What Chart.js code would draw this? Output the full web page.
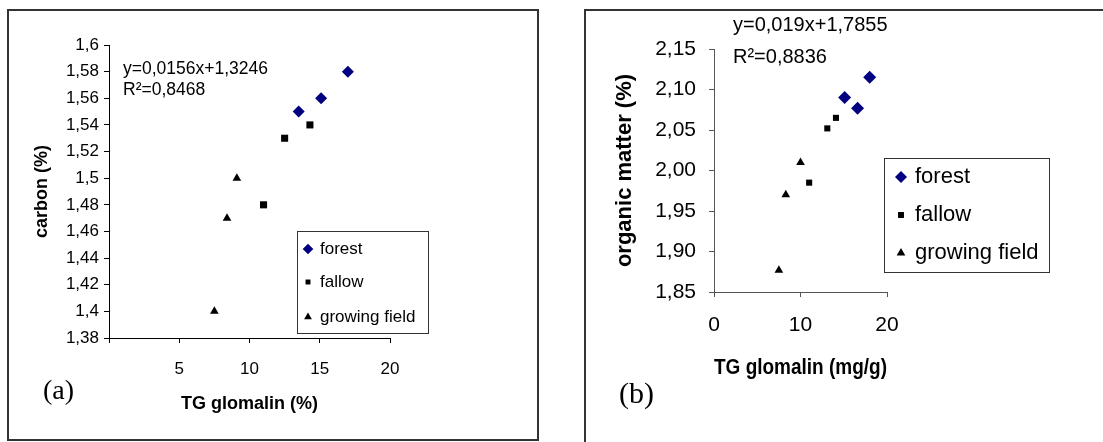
<!DOCTYPE html>
<html>
<head>
<meta charset="utf-8">
<script src="https://cdn.jsdelivr.net/npm/chart.js@4.4.1/dist/chart.umd.min.js"></script>
<style>
  html, body { margin: 0; padding: 0; background: #fff; width: 1103px; height: 442px; overflow: hidden; }
  .box { position: absolute; box-sizing: border-box; border: 2px solid #333; }
  #boxA { left: 7px; top: 9px; width: 532px; height: 432px; }
  #boxB { left: 584px; top: 9px; width: 540px; height: 450px; }
  .wrap { position: absolute; }
  #wrapA { left: 9px; top: 11px; width: 528px; height: 428px; }
  #wrapB { left: 586px; top: 11px; width: 517px; height: 431px; }
</style>
</head>
<body>
<div class="box" id="boxA"></div>
<div class="box" id="boxB"></div>
<div class="wrap" id="wrapA"><canvas id="chartA"></canvas></div>
<div class="wrap" id="wrapB"><canvas id="chartB"></canvas></div>
<script>
// series names
const seriesNames = ["forest", "fallow", "growing field"];

// (a) TG glomalin (%) vs carbon (%)
const forestGlomalinA = [13.5, 15.1, 17.0];
const forestCarbon = [1.55, 1.56, 1.58];
const fallowGlomalinA = [11.0, 12.5, 14.3];
const fallowCarbon = [1.48, 1.53, 1.54];
const growingGlomalinA = [7.5, 8.4, 9.1];
const growingCarbon = [1.40, 1.47, 1.50];
const carbonTicks = [1.38, 1.40, 1.42, 1.44, 1.46, 1.48, 1.50, 1.52, 1.54, 1.56, 1.58, 1.60];
const glomalinTicksA = [0, 5, 10, 15, 20];
const equationA = ["y=0,0156x+1,3246", "R\u00b2=0,8468"];

// (b) TG glomalin (mg/g) vs organic matter (%)
const forestGlomalinB = [15.1, 16.6, 18.0];
const forestOrganic = [2.09, 2.077, 2.115];
const fallowGlomalinB = [11.0, 13.1, 14.1];
const fallowOrganic = [1.985, 2.052, 2.065];
const growingGlomalinB = [7.5, 8.3, 10.0];
const growingOrganic = [1.877, 1.97, 2.01];
const organicTicks = [1.85, 1.90, 1.95, 2.00, 2.05, 2.10, 2.15];
const glomalinTicksB = [0, 10, 20];
const equationB = ["y=0,019x+1,7855", "R\u00b2=0,8836"];

const toPoints = (xs, ys) => xs.map((x, i) => ({ x, y: ys[i] }));
const useTicks = values => scale => { scale.ticks = values.map(v => ({ value: v })); };

function marker(ctx, style, x, y, r) {
  ctx.beginPath();
  if (style === "rectRot") {
    ctx.moveTo(x - r, y); ctx.lineTo(x, y - r); ctx.lineTo(x + r, y); ctx.lineTo(x, y + r);
  } else if (style === "rect") {
    const s = r * Math.SQRT1_2;
    ctx.rect(x - s, y - s, 2 * s, 2 * s);
  } else {
    ctx.moveTo(x, y - r);
    ctx.lineTo(x + r * 0.866, y + r * 0.5);
    ctx.lineTo(x - r * 0.866, y + r * 0.5);
  }
  ctx.closePath();
  ctx.fill();
}

// equation, panel tag and the boxed legend
const panelExtras = {
  id: "panelExtras",
  afterDraw(chart, args, o) {
    const ctx = chart.ctx;
    ctx.save();
    ctx.fillStyle = "#000";
    ctx.textAlign = "left";
    ctx.textBaseline = "middle";
    ctx.font = o.eqFont;
    ctx.fillText(o.eq[0], o.eqX, o.eqY[0]);
    ctx.fillText(o.eq[1], o.eqX, o.eqY[1]);
    ctx.font = o.tagFont;
    ctx.fillText(o.tag, o.tagX, o.tagY);

    const [bx, by, bw, bh] = o.box;
    ctx.fillStyle = "#fff";
    ctx.fillRect(bx, by, bw, bh);
    ctx.strokeStyle = "#333";
    ctx.lineWidth = 1;
    ctx.strokeRect(bx + 0.5, by + 0.5, bw, bh);
    ctx.font = o.legendFont;
    chart.data.datasets.forEach((ds, i) => {
      ctx.fillStyle = ds.backgroundColor;
      marker(ctx, ds.pointStyle, o.markerX, o.rows[i], o.markerR[i]);
      ctx.fillStyle = "#000";
      ctx.fillText(ds.label, o.textX, o.rows[i]);
    });
    ctx.restore();
  }
};

function makeChart(id, cfg) {
  const sets = [
    { pts: cfg.forest, style: "rectRot", color: "#000080", r: cfg.radii[0] },
    { pts: cfg.fallow, style: "rect", color: "#000", r: cfg.radii[1] },
    { pts: cfg.growing, style: "triangle", color: "#000", r: cfg.radii[2] }
  ];
  return new Chart(document.getElementById(id), {
    type: "scatter",
    data: {
      datasets: sets.map((s, i) => ({
        label: seriesNames[i],
        data: s.pts,
        pointStyle: s.style,
        backgroundColor: s.color,
        borderColor: s.color,
        borderWidth: 0,
        pointRadius: s.r,
        pointHoverRadius: s.r
      }))
    },
    options: {
      responsive: true,
      maintainAspectRatio: false,
      animation: false,
      events: [],
      layout: { padding: cfg.padding },
      plugins: {
        legend: { display: false },
        tooltip: { enabled: false },
        panelExtras: cfg.extras
      },
      scales: {
        x: {
          type: "linear",
          min: cfg.xTicks[0],
          max: cfg.xTicks[cfg.xTicks.length - 1],
          afterBuildTicks: useTicks(cfg.xTicks),
          afterFit: s => { s.height = cfg.xHeight; },
          border: { display: true, color: cfg.axisColor, width: 1 },
          grid: { drawOnChartArea: false, drawTicks: true, tickLength: 5, color: cfg.axisColor },
          ticks: {
            color: "#000",
            padding: cfg.xTickPad,
            font: { family: "'Liberation Sans', Arial, sans-serif", size: cfg.tickSize },
            maxRotation: 0,
            callback: cfg.xLabel
          },
          title: {
            display: true,
            text: cfg.xTitle,
            color: "#000",
            padding: 0,
            font: { family: "'Liberation Sans', Arial, sans-serif", size: cfg.titleSize, weight: "bold" }
          }
        },
        y: {
          type: "linear",
          min: cfg.yTicks[0],
          max: cfg.yTicks[cfg.yTicks.length - 1],
          afterBuildTicks: useTicks(cfg.yTicks),
          afterFit: s => { s.width = cfg.yWidth; },
          border: { display: true, color: cfg.axisColor, width: 1 },
          grid: { drawOnChartArea: false, drawTicks: true, tickLength: 5, color: cfg.axisColor },
          ticks: {
            color: "#000",
            padding: cfg.yTickPad,
            font: { family: "'Liberation Sans', Arial, sans-serif", size: cfg.tickSize },
            callback: cfg.yLabel
          },
          title: {
            display: true,
            text: cfg.yTitle,
            color: "#000",
            padding: 0,
            font: { family: "'Liberation Sans', Arial, sans-serif", size: cfg.titleSize, weight: "bold" }
          }
        }
      }
    },
    plugins: [panelExtras]
  });
}

makeChart("chartA", {
  forest: toPoints(forestGlomalinA, forestCarbon),
  fallow: toPoints(fallowGlomalinA, fallowCarbon),
  growing: toPoints(growingGlomalinA, growingCarbon),
  radii: [6, 5, 5],
  xTicks: glomalinTicksA,
  yTicks: carbonTicks,
  xTitle: "TG glomalin (%)",
  yTitle: "carbon (%)",
  xLabel: v => (v === 0 ? "" : String(v)),
  yLabel: v => String(+v.toFixed(2)).replace(".", ","),
  padding: { left: 22, top: 34, right: 147, bottom: 24 },
  yWidth: 78,
  xHeight: 77,
  xTickPad: 16,
  yTickPad: 5,
  tickSize: 17,
  titleSize: 18,
  axisColor: "#000",
  extras: {
    eq: equationA, eqX: 114, eqY: [58, 79], eqFont: "17.5px 'Liberation Sans', Arial, sans-serif",
    tag: "(a)", tagX: 34, tagY: 381, tagFont: "28px 'Liberation Serif', 'Times New Roman', serif",
    box: [288, 220, 131, 102], markerX: 299, textX: 311, rows: [238, 271, 306],
    markerR: [5.3, 3.5, 4.5], legendFont: "17px 'Liberation Sans', Arial, sans-serif"
  }
});

makeChart("chartB", {
  forest: toPoints(forestGlomalinB, forestOrganic),
  fallow: toPoints(fallowGlomalinB, fallowOrganic),
  growing: toPoints(growingGlomalinB, growingOrganic),
  radii: [6.5, 4.3, 5],
  xTicks: glomalinTicksB,
  yTicks: organicTicks,
  xTitle: "TG glomalin (mg/g)",
  yTitle: "organic matter (%)",
  xLabel: v => String(v),
  yLabel: v => v.toFixed(2).replace(".", ","),
  padding: { left: 26, top: 38, right: 216, bottom: 61 },
  yWidth: 102,
  xHeight: 89,
  xTickPad: 16,
  yTickPad: 13,
  tickSize: 21,
  titleSize: 22,
  axisColor: "#555",
  extras: {
    eq: equationB, eqX: 147, eqY: [14, 46], eqFont: "20px 'Liberation Sans', Arial, sans-serif",
    tag: "(b)", tagX: 33, tagY: 384, tagFont: "30px 'Liberation Serif', 'Times New Roman', serif",
    box: [298, 147, 165, 114], markerX: 315, textX: 329, rows: [166, 204, 242],
    markerR: [6, 4.2, 5], legendFont: "22px 'Liberation Sans', Arial, sans-serif"
  }
});
</script>
</body>
</html>
